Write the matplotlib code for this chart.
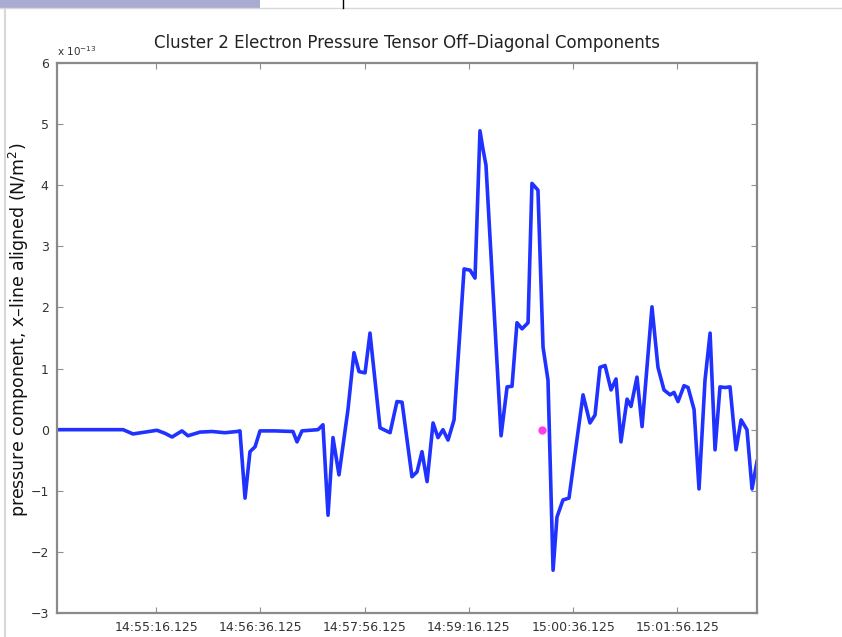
import numpy as np
import matplotlib.pyplot as plt

# time in seconds after ~14:54:00, pressure in units of 1e-13 N/m^2
t = [0, 25.3, 50.7, 58.3, 67.5, 76.7, 82.9, 88.3, 95.9, 100.5, 109.7, 119.0, 128.9,
     138.1, 140.4, 144.3, 148.1, 152.0, 155.8, 167.3, 181.1, 184.2, 188.0, 200.3,
     204.1, 208.0, 211.8, 216.4, 223.3, 227.9, 231.8, 236.4, 240.2, 247.9, 255.6,
     260.9, 264.8, 272.4, 276.3, 280.1, 284.0, 288.6, 292.4, 296.2, 300.1, 304.7,
     312.4, 317.0, 320.8, 324.6, 327.0, 329.2, 340.8, 345.4, 349.2, 353.0, 356.9,
     361.5, 364.5, 369.1, 373.0, 376.8, 380.7, 383.7, 388.3, 392.9, 403.7, 409.0,
     412.9, 416.7, 420.6, 425.2, 429.0, 432.8, 437.5, 440.5, 445.1, 449.0, 456.6,
     461.2, 465.8, 470.5, 473.5, 476.6, 481.2, 484.3, 488.9, 492.7, 497.3, 501.2,
     505.0, 508.8, 512.7, 516.5, 521.1, 525.0, 529.5, 533.4, 537.2]
p = [0, 0, 0, -0.07, -0.04, -0.01, -0.06, -0.12, -0.02, -0.1, -0.04, -0.03, -0.05,
     -0.03, -0.02, -1.12, -0.36, -0.28, -0.02, -0.02, -0.03, -0.2, -0.02, 0.0,
     0.08, -1.4, -0.13, -0.74, 0.33, 1.26, 0.95, 0.93, 1.58, 0.03, -0.05,
     0.46, 0.45, -0.77, -0.69, -0.36, -0.85, 0.11, -0.13, 0.0, -0.17, 0.16,
     2.63, 2.61, 2.48, 4.89, 4.58, 4.33, -0.1, 0.7, 0.71, 1.75, 1.65,
     1.75, 4.03, 3.92, 1.35, 0.81, -2.3, -1.43, -1.15, -1.12, 0.57, 0.11,
     0.24, 1.02, 1.05, 0.65, 0.83, -0.2, 0.5, 0.38, 0.86, 0.05, 2.01,
     1.02, 0.65, 0.57, 0.61, 0.46, 0.72, 0.69, 0.33, -0.97, 0.81, 1.58,
     -0.33, 0.7, 0.69, 0.7, -0.33, 0.16, 0.0, -0.97, -0.52]

xline_t = [372.2]
xline_p = [0.0]

tick_pos = [76.125, 156.125, 236.125, 316.125, 396.125, 476.125]
tick_lab = ['14:55:16.125', '14:56:36.125', '14:57:56.125', '14:59:16.125',
            '15:00:36.125', '15:01:56.125']

plt.rcParams['font.family'] = ['DejaVu Sans']

fig = plt.figure(figsize=(8.42, 6.37), dpi=100)

# window decoration at the top
fig.add_artist(plt.Rectangle((0, 1 - 8/637), 260/842, 8/637, transform=fig.transFigure,
                             color='#a9abd0', lw=0))
fig.add_artist(plt.Line2D([0, 1], [1 - 8/637, 1 - 8/637], transform=fig.transFigure,
                          color='#d8d8d8', lw=1))
fig.add_artist(plt.Line2D([343/842, 343/842], [1 - 8/637, 1], transform=fig.transFigure,
                          color='black', lw=1))
fig.add_artist(plt.Line2D([5/842, 5/842], [0, 1 - 10/637], transform=fig.transFigure,
                          color='#d8d8d8', lw=1.5))

ax = fig.add_axes([57/842, 24/637, 700/842, 550/637])
ax.plot(t, p, color='#1f32ff', lw=2.6)
ax.plot(xline_t, xline_p, 'o', color='#ff3ee6', ms=6, mec='none')

ax.set_xlim(0, 537.2)
ax.set_ylim(-3, 6)
ax.set_yticks(range(-3, 7))
ax.set_xticks(tick_pos)
ax.set_xticklabels(tick_lab)
ax.tick_params(direction='in', length=4, width=0.8, color='#909090',
               top=True, right=True, labelsize=9, colors='#333333', pad=6)
for s in ax.spines.values():
    s.set_color('#8a8a8a')
    s.set_linewidth(1.6)

ax.set_title('Cluster 2 Electron Pressure Tensor Off\u2013Diagonal Components',
             fontsize=12, color='#222222', pad=11)
ax.set_ylabel('pressure component, x\u2013line aligned (N/m$^2$)', fontsize=12.5,
              color='#111111')
ax.yaxis.set_label_coords(-0.037, 0.515)
ax.text(0, 1.012, 'x 10$^{-13}$', transform=ax.transAxes, fontsize=7.5, color='#333333')

plt.savefig('out.png', dpi=100)
